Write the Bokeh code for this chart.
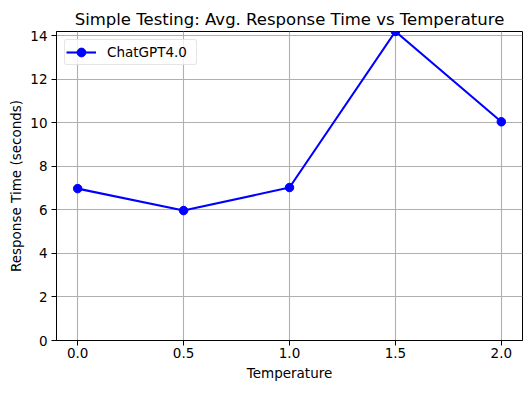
from bokeh.plotting import figure
from bokeh.models import Range1d, FixedTicker, NumeralTickFormatter
from bokeh.embed import file_html
from bokeh.resources import INLINE

temperature = [0.0, 0.5, 1.0, 1.5, 2.0]
response_time = [6.98, 5.97, 7.03, 14.2, 10.05]
x_ticks = [0.0, 0.5, 1.0, 1.5, 2.0]
y_ticks = [0, 2, 4, 6, 8, 10, 12, 14]

FONT = "DejaVu Sans"

p = figure(width=531, height=393, output_backend="svg", toolbar_location=None,
           x_range=Range1d(-0.1, 2.1), y_range=Range1d(0, 14.2),
           min_border_left=56, min_border_right=9, min_border_top=31, min_border_bottom=53)

p.title.text = "Simple Testing: Avg. Response Time vs Temperature"
p.title.align = "center"
p.title.text_font = FONT
p.title.text_font_size = "16.5px"
p.title.text_font_style = "normal"
p.title.text_color = "black"
p.title.offset = 0
p.title.standoff = 5

p.outline_line_color = "black"
p.outline_line_width = 1
p.outline_line_alpha = 1

for ax in (p.xaxis, p.yaxis):
    ax.axis_line_color = "black"
    ax.major_tick_out = 5
    ax.major_tick_in = 0
    ax.minor_tick_line_color = None
    ax.major_label_text_font = FONT
    ax.major_label_text_font_size = "13.5px"
    ax.major_label_text_color = "black"
    ax.axis_label_text_font = FONT
    ax.axis_label_text_font_size = "13.5px"
    ax.axis_label_text_font_style = "normal"
    ax.axis_label_text_color = "black"

p.xaxis.ticker = FixedTicker(ticks=x_ticks)
p.xaxis.formatter = NumeralTickFormatter(format="0.0")
p.yaxis.ticker = FixedTicker(ticks=y_ticks)
p.xaxis.axis_label = "Temperature"
p.yaxis.axis_label = "Response Time (seconds)"
p.xaxis.major_label_standoff = 2
p.yaxis.major_label_standoff = 4
p.xaxis.axis_label_standoff = 4
p.yaxis.axis_label_standoff = 3

p.xgrid.grid_line_color = "#b0b0b0"
p.ygrid.grid_line_color = "#b0b0b0"
p.xgrid.grid_line_width = 1.1
p.ygrid.grid_line_width = 1.1

p.line(temperature, response_time, line_color="blue", line_width=2.1, legend_label="ChatGPT4.0")
p.scatter(temperature, response_time, size=8.5, fill_color="blue", line_color="blue",
          legend_label="ChatGPT4.0")

p.legend.location = "top_left"
p.legend.margin = 8
p.legend.padding = 1
p.legend.spacing = 0
p.legend.glyph_width = 30
p.legend.glyph_height = 22
p.legend.label_text_font = FONT
p.legend.label_text_font_size = "13.5px"
p.legend.label_text_color = "black"
p.legend.label_standoff = 11
p.legend.label_width = 88
p.legend.border_line_color = "#cccccc"
p.legend.border_line_width = 1
p.legend.border_radius = 3
p.legend.background_fill_alpha = 0.8

open("out.html", "w").write(file_html(p, INLINE))
